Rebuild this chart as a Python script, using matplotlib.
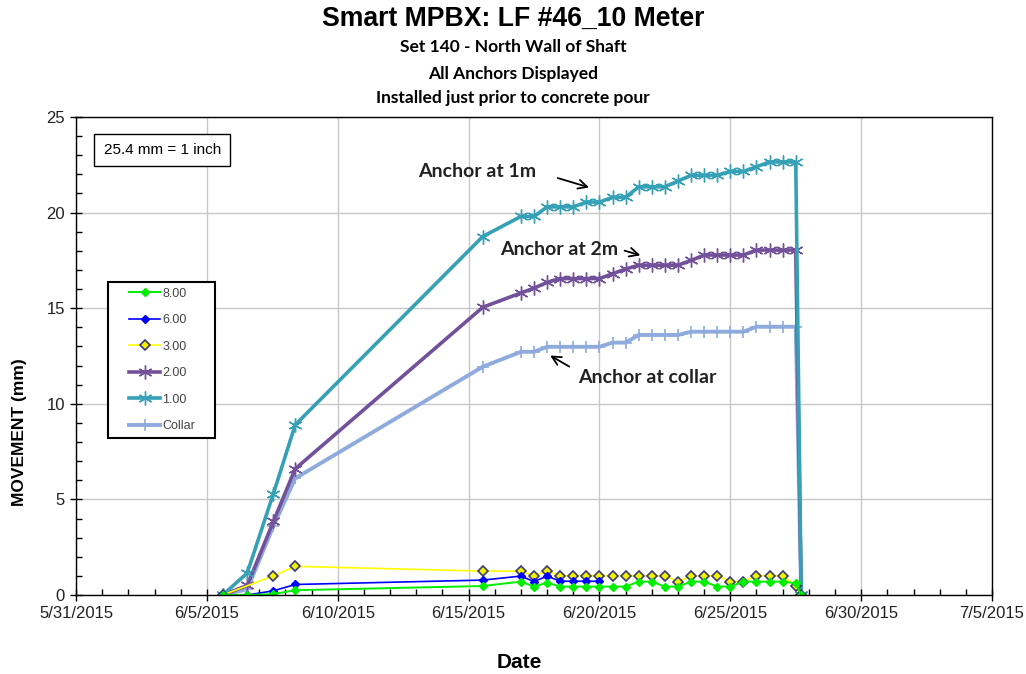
import matplotlib
matplotlib.use("Agg")
import matplotlib.pyplot as plt
import matplotlib.dates as mdates
from matplotlib.ticker import MultipleLocator, FixedLocator, FuncFormatter
from matplotlib.patches import Rectangle
import pandas as pd

# reading times (first 5 irregular, then twice a day, last = gauge lost)
times = ["2015-06-05 14:30", "2015-06-06 13:00", "2015-06-07 13:00", "2015-06-08 09:00",
         "2015-06-15 13:00",
         "2015-06-17 00:00", "2015-06-17 12:00", "2015-06-18 00:00", "2015-06-18 12:00",
         "2015-06-19 00:00", "2015-06-19 12:00", "2015-06-20 00:00", "2015-06-20 12:00",
         "2015-06-21 00:00", "2015-06-21 12:00", "2015-06-22 00:00", "2015-06-22 12:00",
         "2015-06-23 00:00", "2015-06-23 12:00", "2015-06-24 00:00", "2015-06-24 12:00",
         "2015-06-25 00:00", "2015-06-25 12:00", "2015-06-26 00:00", "2015-06-26 12:00",
         "2015-06-27 00:00", "2015-06-27 12:00", "2015-06-27 17:00"]

a8 = [0, 0, 0.05, 0.25, 0.47, 0.7, 0.44, 0.65, 0.44, 0.44, 0.44, 0.44, 0.44, 0.44,
      0.7, 0.7, 0.44, 0.44, 0.7, 0.7, 0.44, 0.44, 0.7, 0.7, 0.7, 0.7, 0.61, 0]
a6 = [0, 0, 0.22, 0.55, 0.78, 0.99, 0.7, 0.99, 0.72, 0.72, 0.72, 0.72]
# 3.00 anchor has no reading on 6/6
a3 = [0, None, 1.0, 1.5, 1.25, 1.25, 1.01, 1.25, 1.01, 1.01, 1.01, 1.01, 1.01, 1.01,
      1.01, 1.01, 1.01, 0.7, 1.01, 1.01, 1.01, 0.7, 0.7, 1.01, 1.01, 1.01, 0.49, 0]
a2 = [0, 0.5, 3.85, 6.6, 15.05, 15.8, 16.05, 16.35, 16.55, 16.55, 16.55, 16.55, 16.8,
      17.05, 17.25, 17.25, 17.25, 17.25, 17.5, 17.78, 17.78, 17.78, 17.78, 18.04,
      18.04, 18.04, 18.04, 0]
a1 = [0, 1.15, 5.3, 8.9, 18.75, 19.8, 19.8, 20.3, 20.3, 20.3, 20.55, 20.55, 20.8,
      20.8, 21.35, 21.35, 21.35, 21.65, 21.95, 21.95, 21.95, 22.15, 22.15, 22.4,
      22.65, 22.65, 22.65, 0]
collar = [0, 0.3, 3.6, 6.1, 11.94, 12.72, 12.72, 12.98, 12.98, 12.98, 12.98, 12.98,
          13.2, 13.2, 13.6, 13.6, 13.6, 13.6, 13.77, 13.77, 13.77, 13.77, 13.77, 14.03,
          14.03, 14.03, 14.03, 0]

t = pd.to_datetime(times)
s3 = pd.Series(a3, index=t, dtype=float).dropna()

fig = plt.figure(figsize=(10.26, 6.74), dpi=100)
ax = fig.add_axes([0.0741, 0.1172, 0.8928, 0.7092])

star = (6, 2, 0)
l_col, = ax.plot(t, collar, color="#8FAADC", lw=2.8, marker="+", ms=9, mew=1.2, label="Collar")
l_2, = ax.plot(t, a2, color="#72509A", lw=2.6, marker=star, ms=10, mew=1.0, label="2.00")
l_1, = ax.plot(t, a1, color="#35A0B6", lw=2.6, marker=star, ms=10, mew=1.0, label="1.00")
l_3, = ax.plot(s3.index, s3.values, color="#FFFF00", lw=1.2, marker="D", ms=5.5,
               mfc="#F2F200", mec="#3A3A78", mew=1.2, label="3.00")
l_6, = ax.plot(t[:len(a6)], a6, color="#0000FF", lw=1.2, marker="D", ms=4.5, label="6.00")
l_8, = ax.plot(t, a8, color="#00EE00", lw=1.4, marker="D", ms=4.5, label="8.00")

start = pd.Timestamp("2015-05-31")
end = pd.Timestamp("2015-07-05")
ax.set_xlim(start, end)
ax.set_ylim(0, 25)

major = pd.date_range(start, end, freq="5D")
minor = pd.date_range(start, end, freq="D")
ax.xaxis.set_major_locator(FixedLocator(mdates.date2num(major)))
ax.xaxis.set_minor_locator(FixedLocator(mdates.date2num(minor)))
ax.xaxis.set_major_formatter(FuncFormatter(
    lambda v, p: "{d.month}/{d.day}/{d.year}".format(d=mdates.num2date(v))))
ax.yaxis.set_major_locator(MultipleLocator(5))
ax.yaxis.set_minor_locator(MultipleLocator(1))

ax.grid(True, which="major", color="#C8C8C8", lw=1)
ax.set_axisbelow(True)
ax.tick_params(which="major", direction="inout", length=8, width=1, labelsize=12,
               labelcolor="#222222", pad=4)
ax.tick_params(which="minor", direction="in", length=4, width=1)
for s in ax.spines.values():
    s.set_color("black")
    s.set_linewidth(1)

for lab in ax.get_xticklabels() + ax.get_yticklabels():
    lab.set_family("Liberation Sans")

# legend: frame drawn by hand so the padding matches
ax.add_patch(Rectangle((0.0349, 0.3285), 0.1168, 0.3264, transform=ax.transAxes,
                       fc="white", ec="black", lw=1.5, zorder=4))
leg = ax.legend(handles=[l_8, l_6, l_3, l_2, l_1, l_col], loc="upper left",
                bbox_to_anchor=(0.0579, 0.643), prop={"family": "Liberation Sans", "size": 9},
                frameon=False, labelspacing=1.16, handlelength=2.5, handletextpad=0.15,
                borderpad=0, borderaxespad=0)
leg.set_zorder(5)
for txt in leg.get_texts():
    txt.set_color("#444444")

ax.text(0.094, 0.931, "25.4 mm = 1 inch", transform=ax.transAxes, ha="center", va="center",
        fontsize=11, family="Liberation Sans",
        bbox=dict(boxstyle="square,pad=0.6", fc="white", ec="black", lw=1))

lab_kw = dict(transform=ax.transAxes, ha="center", va="center", fontsize=14,
              fontweight="bold", family="Lato", color="#222222")
arr_kw = dict(xycoords="axes fraction", textcoords="axes fraction",
              arrowprops=dict(arrowstyle="->", color="black", lw=1.3, mutation_scale=16))
ax.text(0.438, 0.885, "Anchor at 1m", **lab_kw)
ax.annotate("", xy=(0.563, 0.851), xytext=(0.523, 0.874), **arr_kw)
ax.text(0.527, 0.722, "Anchor at 2m", **lab_kw)
ax.annotate("", xy=(0.619, 0.709), xytext=(0.596, 0.722), **arr_kw)
ax.text(0.624, 0.454, "Anchor at collar", **lab_kw)
ax.annotate("", xy=(0.515, 0.504), xytext=(0.541, 0.475), **arr_kw)

# titles
fig.text(0.5, 1 - 19 / 674, "Smart MPBX: LF #46_10 Meter", ha="center", va="center",
         fontsize=19.2, fontweight="bold", family="Liberation Sans")
for y, s in [(47, "Set 140 - North Wall of Shaft"), (74, "All Anchors Displayed"),
             (98, "Installed just prior to concrete pour")]:
    fig.text(0.5, 1 - y / 674, s, ha="center", va="center", fontsize=12.5,
             fontweight="bold", family="Lato")

fig.text(20 / 1026, 1 - 432 / 674, "MOVEMENT (mm)", rotation=90, ha="center", va="center",
         fontsize=12.5, fontweight="bold", family="Liberation Sans")
fig.text(519 / 1026, 1 - 662 / 674, "Date", ha="center", va="center",
         fontsize=15, fontweight="bold", family="Liberation Sans")

fig.savefig("out.png", dpi=100)
